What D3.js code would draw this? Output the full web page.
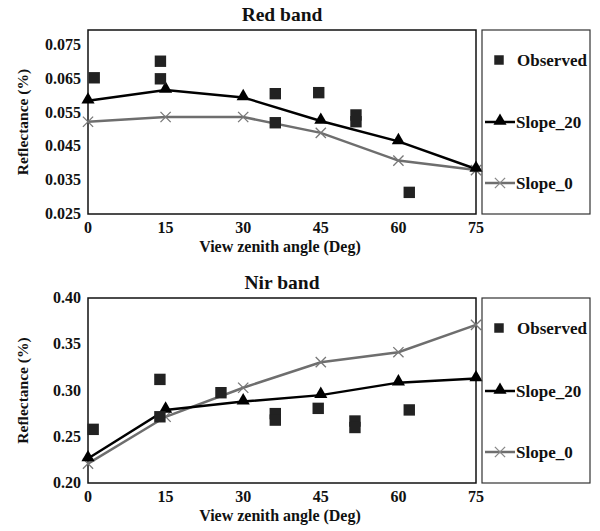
<html>
<head>
<script src="https://cdn.jsdelivr.net/npm/d3@7"></script>
<style>
  body { margin: 0; background: #fff; }
</style>
</head>
<body>
<div id="chart"></div>
<script>
// view zenith angles of the simulated series
var angles = [0, 15, 30, 45, 60, 75];

// Red band
var redSlope20 = [0.0585, 0.0617, 0.0595, 0.0525, 0.0465, 0.0383];
var redSlope0 = [0.0523, 0.0537, 0.0537, 0.049, 0.0408, 0.038];
var redObsAngle = [1.2, 14, 14, 36.2, 36.2, 44.6, 51.8, 51.8, 62.1];
var redObsValue = [0.0653, 0.0702, 0.065, 0.0606, 0.052, 0.0609, 0.0543, 0.0523, 0.0314];
var redTicks = [0.025, 0.035, 0.045, 0.055, 0.065, 0.075];

// Nir band
var nirSlope20 = [0.2265, 0.279, 0.288, 0.295, 0.3085, 0.313];
var nirSlope0 = [0.221, 0.2716, 0.303, 0.3306, 0.3414, 0.371];
var nirObsAngle = [1.0, 13.9, 13.9, 25.7, 36.2, 36.2, 44.5, 51.6, 51.6, 62.1];
var nirObsValue = [0.258, 0.312, 0.2716, 0.2976, 0.275, 0.268, 0.2807, 0.267, 0.26, 0.279];
var nirTicks = [0.2, 0.25, 0.3, 0.35, 0.4];

var xTicks = [0, 15, 30, 45, 60, 75];

var svg = d3.select("#chart").append("svg")
  .attr("width", 600).attr("height", 531)
  .attr("font-family", "'Liberation Serif', 'DejaVu Serif', serif")
  .attr("font-weight", "bold")
  .attr("fill", "#111");

var x = d3.scaleLinear().domain([0, 75]).range([88, 476]);

function panel(opt) {
  var y = d3.scaleLinear().domain(opt.domain).range(opt.range);
  var g = svg.append("g");

  // title
  g.append("text").attr("x", 282).attr("y", opt.top - 9)
    .attr("text-anchor", "middle").attr("font-size", 19.5).text(opt.title);

  // plot box
  g.append("rect").attr("x", 88).attr("y", opt.top)
    .attr("width", 388).attr("height", opt.bottom - opt.top)
    .attr("fill", "none").attr("stroke", "#111").attr("stroke-width", 1.5);

  // y ticks
  g.selectAll(".yt").data(opt.ticks).enter().append("text")
    .attr("x", 81).attr("y", function (d) { return y(d) + 5; })
    .attr("text-anchor", "end").attr("font-size", 16)
    .text(function (d) { return d3.format(opt.fmt)(d); });

  // x ticks
  g.selectAll(".xt").data(xTicks).enter().append("text")
    .attr("x", function (d) { return x(d); }).attr("y", opt.bottom + 19)
    .attr("text-anchor", "middle").attr("font-size", 16)
    .text(function (d) { return d; });

  g.append("text").attr("x", 280).attr("y", opt.bottom + 38)
    .attr("text-anchor", "middle").attr("font-size", 16)
    .text("View zenith angle (Deg)");

  g.append("text")
    .attr("transform", "translate(28," + ((opt.top + opt.bottom) / 2) + ") rotate(-90)")
    .attr("text-anchor", "middle").attr("font-size", 15.5)
    .text("Reflectance (%)");

  var line = d3.line()
    .x(function (d, i) { return x(angles[i]); })
    .y(function (d) { return y(d); });

  // Slope_0
  g.append("path").datum(opt.s0).attr("d", line)
    .attr("fill", "none").attr("stroke", "#6e6e6e").attr("stroke-width", 2.5);
  // Slope_20
  g.append("path").datum(opt.s20).attr("d", line)
    .attr("fill", "none").attr("stroke", "#000").attr("stroke-width", 2.5);

  var cross = d3.symbol().type(d3.symbolX).size(70);
  var tri = d3.symbol().type(d3.symbolTriangle).size(75);
  var sq = d3.symbol().type(d3.symbolSquare).size(130);

  g.selectAll(".s0").data(opt.s0).enter().append("path")
    .attr("d", cross)
    .attr("transform", function (d, i) { return "translate(" + x(angles[i]) + "," + y(d) + ")"; })
    .attr("fill", "none").attr("stroke", "#777").attr("stroke-width", 1.3);

  g.selectAll(".s20").data(opt.s20).enter().append("path")
    .attr("d", tri)
    .attr("transform", function (d, i) { return "translate(" + x(angles[i]) + "," + (y(d) - 1) + ")"; })
    .attr("fill", "#000");

  g.selectAll(".obs").data(opt.obsV).enter().append("path")
    .attr("d", sq)
    .attr("transform", function (d, i) { return "translate(" + x(opt.obsA[i]) + "," + y(d) + ")"; })
    .attr("fill", "#222");

  // legend
  var lg = g.append("g");
  lg.append("rect").attr("x", 482).attr("y", opt.top)
    .attr("width", 108).attr("height", opt.bottom - opt.top)
    .attr("fill", "none").attr("stroke", "#333").attr("stroke-width", 1.2);

  var ly = opt.legendY;
  lg.append("path").attr("d", d3.symbol().type(d3.symbolSquare).size(90))
    .attr("transform", "translate(499," + ly[0] + ")").attr("fill", "#222");
  lg.append("text").attr("x", 517).attr("y", ly[0] + 6).attr("font-size", 17).text("Observed");

  lg.append("line").attr("x1", 485).attr("x2", 515).attr("y1", ly[1]).attr("y2", ly[1])
    .attr("stroke", "#000").attr("stroke-width", 2.5);
  lg.append("path").attr("d", tri).attr("transform", "translate(500," + (ly[1] - 1) + ")").attr("fill", "#000");
  lg.append("text").attr("x", 516).attr("y", ly[1] + 6).attr("font-size", 17).text("Slope_20");

  lg.append("line").attr("x1", 485).attr("x2", 515).attr("y1", ly[2]).attr("y2", ly[2])
    .attr("stroke", "#6e6e6e").attr("stroke-width", 2.5);
  lg.append("path").attr("d", cross).attr("transform", "translate(500," + ly[2] + ")")
    .attr("fill", "none").attr("stroke", "#888").attr("stroke-width", 1.3);
  lg.append("text").attr("x", 516).attr("y", ly[2] + 6).attr("font-size", 17).text("Slope_0");
}

panel({
  title: "Red band", top: 30, bottom: 214,
  domain: [0.025, 0.075], range: [214, 45], ticks: redTicks, fmt: ".3f",
  s20: redSlope20, s0: redSlope0, obsA: redObsAngle, obsV: redObsValue,
  legendY: [60, 122, 183]
});

panel({
  title: "Nir band", top: 298, bottom: 483,
  domain: [0.2, 0.4], range: [483, 298], ticks: nirTicks, fmt: ".2f",
  s20: nirSlope20, s0: nirSlope0, obsA: nirObsAngle, obsV: nirObsValue,
  legendY: [328, 391, 452]
});
</script>
</body>
</html>
